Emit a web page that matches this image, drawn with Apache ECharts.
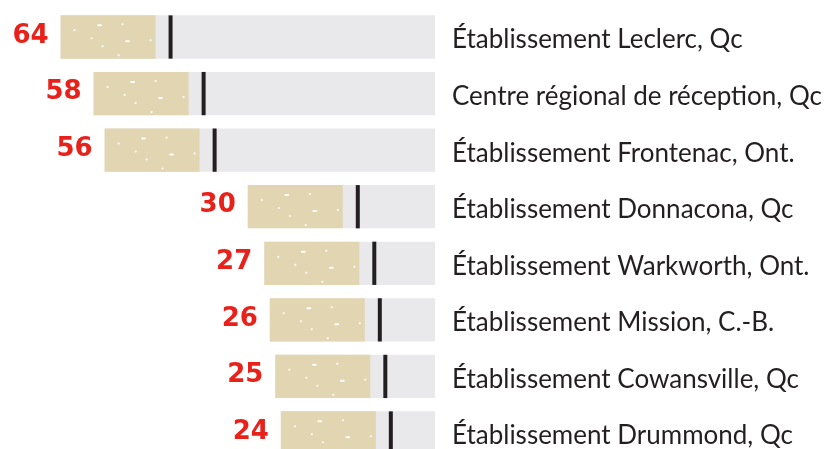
<!DOCTYPE html>
<html>
<head>
<meta charset="utf-8">
<script src="https://cdn.jsdelivr.net/npm/echarts@6/dist/echarts.min.js"></script>
<style>
  html, body { margin: 0; background: #fff; }
  #chart { width: 826px; height: 449px; }
</style>
</head>
<body>
<div id="chart"></div>
<script>
const institutions = [
  'Établissement Leclerc, Qc',
  'Centre régional de réception, Qc',
  'Établissement Frontenac, Ont.',
  'Établissement Donnacona, Qc',
  'Établissement Warkworth, Ont.',
  'Établissement Mission, C.-B.',
  'Établissement Cowansville, Qc',
  'Établissement Drummond, Qc'
]
const counts = [64, 58, 56, 30, 27, 26, 25, 24]

// the grey bar ends a little past zero, so the axis starts below it
const axisMin = -4
const axisMax = 75

// white flecks on the filter (offsets inside the tan part)
const flecks = [
  [14, 15, 1, 1], [39, 10, 2.5, 1], [62, 9, 1, 1], [31, 23, 1, 1],
  [67, 26, 2.5, 1], [42, 31, 1, 1], [90, 25, 1, 1], [58, 40, 1, 1]
]

const chart = echarts.init(document.getElementById('chart'))

function renderItem(params, api) {
  const v = api.value(0)
  const idx = api.value(1)
  const start = api.coord([v, idx])
  const end = api.coord([axisMin, idx])
  const h = api.size([0, 1])[1] * 0.765
  const x = start[0]
  const y = start[1] - h / 2
  const children = [
    { type: 'rect', shape: { x: x, y: y, width: end[0] - x, height: h }, style: { fill: '#e9e9eb' } },
    { type: 'rect', shape: { x: x, y: y, width: 95, height: h }, style: { fill: '#e2d5b2' } },
    { type: 'rect', shape: { x: x + 108, y: y, width: 4, height: h }, style: { fill: '#231f20' } },
    {
      type: 'text',
      x: x - 12,
      y: start[1] - 1,
      style: {
        text: String(v),
        align: 'right',
        verticalAlign: 'middle',
        fill: '#e8221b',
        font: 'bold 26px "DejaVu Sans"'
      }
    }
  ]
  flecks.forEach((f) => {
    children.push({
      type: 'ellipse',
      shape: { cx: x + f[0], cy: y + f[1], rx: f[2], ry: f[3] },
      style: { fill: '#ffffff' }
    })
  })
  return { type: 'group', children: children }
}

const option = {
  backgroundColor: '#fff',
  animation: false,
  grid: {
    left: 0,
    right: 391,
    top: 37,
    height: 398.5
  },
  xAxis: {
    type: 'value',
    inverse: true,
    min: axisMin,
    max: axisMax,
    show: false
  },
  yAxis: {
    type: 'category',
    inverse: true,
    boundaryGap: false,
    position: 'right',
    data: institutions,
    axisLine: { show: false },
    axisTick: { show: false },
    splitLine: { show: false },
    axisLabel: {
      margin: 17,
      align: 'left',
      verticalAlign: 'top',
      lineHeight: 6,
      color: '#231f20',
      fontFamily: 'Lato',
      fontSize: 26
    }
  },
  series: [
    {
      type: 'custom',
      renderItem: renderItem,
      encode: { x: 0, y: 1 },
      data: counts.map((v, i) => [v, i])
    }
  ]
}

chart.setOption(option)
</script>
</body>
</html>
